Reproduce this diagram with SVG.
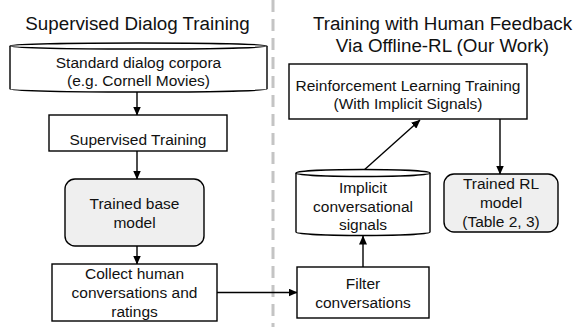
<svg xmlns="http://www.w3.org/2000/svg" width="582" height="327" viewBox="0 0 582 327">
<defs>
<marker id="ah" markerWidth="9" markerHeight="8" refX="8.5" refY="4" orient="auto" markerUnits="userSpaceOnUse">
<path d="M0,0 L9,4 L0,8 Z" fill="#000"/>
</marker>
<style>
text{font-family:"Liberation Sans",Arial,sans-serif;fill:#111;text-anchor:middle}
.t{font-size:18.8px}
.n{font-size:15.5px}
.box{fill:#fff;stroke:#000;stroke-width:1.4}
.gray{fill:#efefef;stroke:#000;stroke-width:1.4}
.c{stroke:#000;stroke-width:1.4;fill:none;marker-end:url(#ah)}
</style>
</defs>
<rect width="582" height="327" fill="#fff"/>
<line x1="273" y1="0" x2="273" y2="327" stroke="#c4c4c4" stroke-width="3" stroke-dasharray="12 7"/>
<g id="titles">
<text class="t" x="137.5" y="30">Supervised Dialog Training</text>
<text class="t" x="442.5" y="30">Training with Human Feedback</text>
<text class="t" x="442.5" y="52">Via Offline-RL (Our Work)</text>
</g>
<g id="connectors">
<line class="c" x1="137" y1="92" x2="137" y2="115"/>
<line class="c" x1="137" y1="151" x2="137" y2="179"/>
<line class="c" x1="137" y1="246" x2="137" y2="264"/>
<line class="c" x1="217" y1="292.5" x2="297" y2="292.5"/>
<line class="c" x1="363" y1="267" x2="363" y2="236"/>
<line class="c" x1="363" y1="171" x2="420" y2="120"/>
<line class="c" x1="500" y1="119" x2="500" y2="174"/>
</g>
<g id="corpora">
<path class="box" d="M10,46 L10,89 A128.5,3 0 0 0 267,89 L267,46 A128.5,3 0 0 0 10,46 Z"/>
<path class="box" d="M10,46 A128.5,3 0 0 0 267,46" fill="none"/>
<text class="n" x="138.5" y="68">Standard dialog corpora</text>
<text class="n" x="138.5" y="86">(e.g. Cornell Movies)</text>
</g>
<g id="supervised">
<rect class="box" x="49" y="115" width="178" height="36"/>
<text class="n" x="138" y="145">Supervised Training</text>
</g>
<g id="basemodel">
<rect class="gray" x="65" y="179" width="139" height="67" rx="10"/>
<text class="n" x="134.5" y="209">Trained base</text>
<text class="n" x="134.5" y="228">model</text>
</g>
<g id="collect">
<rect class="box" x="52" y="264" width="165" height="57"/>
<text class="n" x="134.5" y="279">Collect human</text>
<text class="n" x="134.5" y="298">conversations and</text>
<text class="n" x="134.5" y="317">ratings</text>
</g>
<g id="filter">
<rect class="box" x="297" y="267" width="132" height="51"/>
<text class="n" x="363" y="289">Filter</text>
<text class="n" x="363" y="308">conversations</text>
</g>
<g id="signals">
<path class="box" d="M296,173 L296,232 A67,3.5 0 0 0 430,232 L430,173 A67,3.5 0 0 0 296,173 Z"/>
<path class="box" d="M296,173 A67,3.5 0 0 0 430,173" fill="none"/>
<text class="n" x="363" y="193">Implicit</text>
<text class="n" x="363" y="212">conversational</text>
<text class="n" x="363" y="230">signals</text>
</g>
<g id="rltraining">
<rect class="box" x="289" y="64" width="238" height="55"/>
<text class="n" x="408" y="91">Reinforcement Learning Training</text>
<text class="n" x="408" y="109">(With Implicit Signals)</text>
</g>
<g id="rlmodel">
<rect class="gray" x="444" y="174" width="114" height="58" rx="10"/>
<text class="n" x="501" y="189">Trained RL</text>
<text class="n" x="501" y="208">model</text>
<text class="n" x="501" y="227">(Table 2, 3)</text>
</g>
</svg>
